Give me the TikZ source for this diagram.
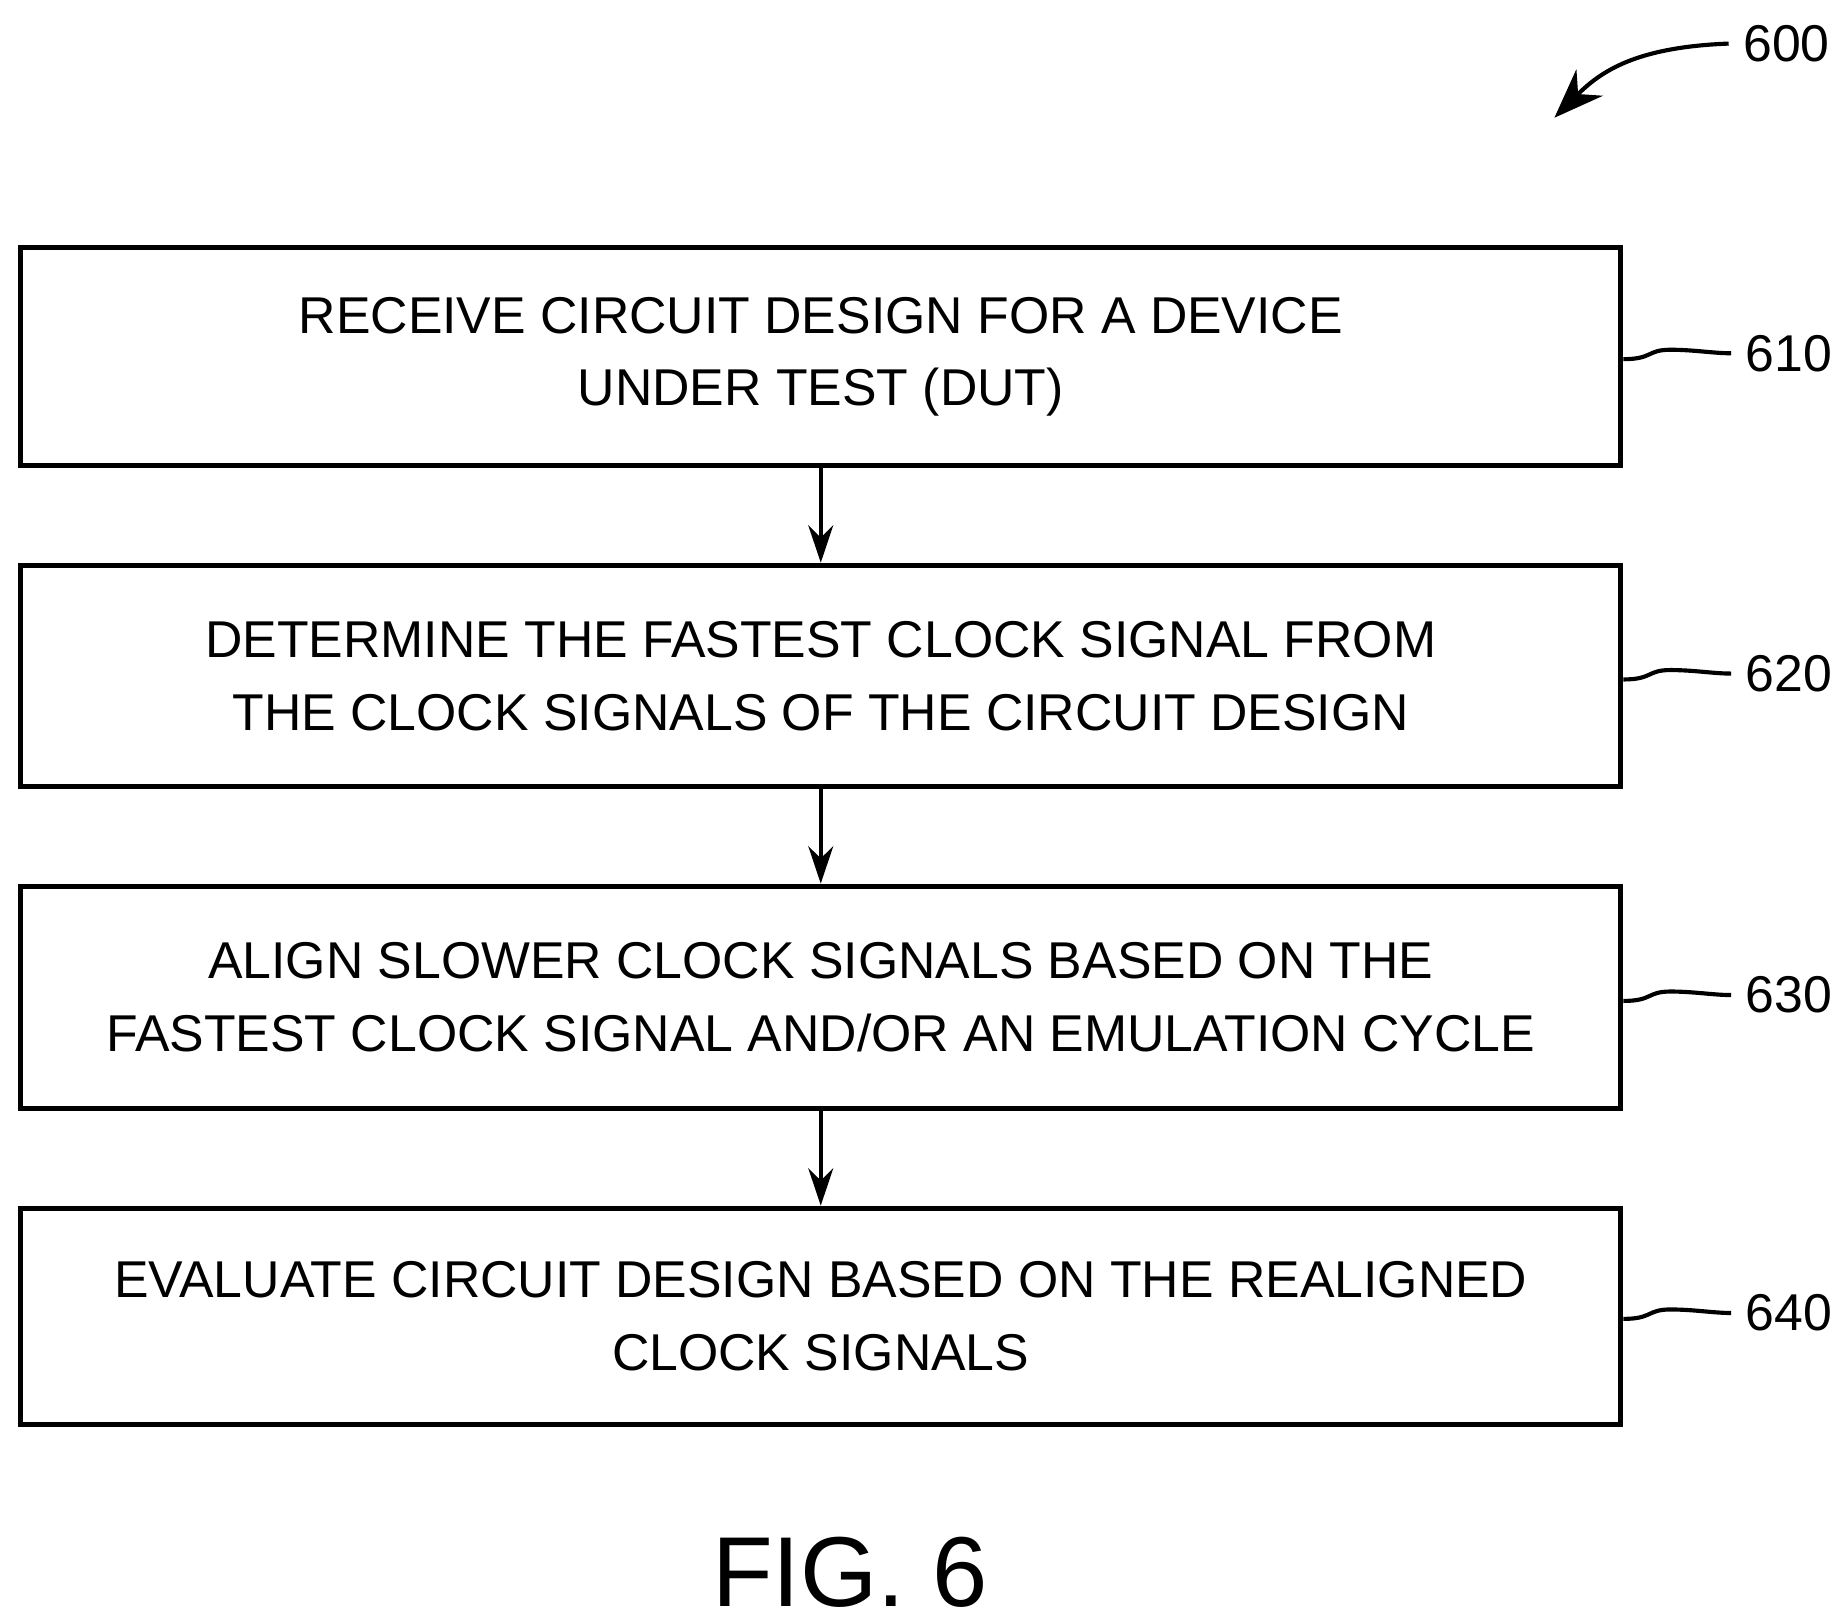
\documentclass[tikz,border=0pt]{standalone}
\usepackage{fontspec}
\setmainfont{Liberation Sans}
\usetikzlibrary{positioning,arrows.meta}
\tikzset{
  stepbox/.style={rectangle, draw, line width=1.2pt, minimum width=13.58cm, align=center,
    font=\fontsize{12.5}{17.6}\selectfont},
  ref/.style={font=\fontsize{12.5}{15}\selectfont, anchor=west},
  flow/.style={-{Stealth[length=9pt,width=6pt]}, line width=1pt},
  squig/.style={line width=1pt}
}
\begin{document}
\begin{tikzpicture}[x=0.01cm, y=-0.01cm]
    \useasboundingbox (0,0) rectangle (1560,1372);
    % steps
    \node[stepbox, minimum height=1.85cm] (s610) at (697,303) {RECEIVE CIRCUIT DESIGN FOR A DEVICE\\UNDER TEST (DUT)};
    \node[stepbox, minimum height=1.88cm] (s620) at (697,574) {DETERMINE THE FASTEST CLOCK SIGNAL FROM\\THE CLOCK SIGNALS OF THE CIRCUIT DESIGN};
    \node[stepbox, minimum height=1.89cm] (s630) at (697,847) {ALIGN SLOWER CLOCK SIGNALS BASED ON THE\\FASTEST CLOCK SIGNAL AND/OR AN EMULATION CYCLE};
    \node[stepbox, minimum height=1.84cm] (s640) at (697,1118) {EVALUATE CIRCUIT DESIGN BASED ON THE REALIGNED\\CLOCK SIGNALS};

    \draw[flow] (s610) -- (s620);
    \draw[flow] (s620) -- (s630);
    \draw[flow] (s630) -- (s640);

    % reference numerals
    \node[ref] (r610) at (1470,300) {610};
    \node[ref] (r620) at (1470,572) {620};
    \node[ref] (r630) at (1470,845) {630};
    \node[ref] (r640) at (1470,1115) {640};
    \foreach \s in {610,620,630,640}
      \draw[squig] (s\s.east |- r\s.west) ++(0,5) .. controls +(25,0) and +(-20,0) .. ++(40,-8)
        .. controls +(20,0) and +(-15,0) .. (r\s.west);

    \node[ref] (r600) at (1468,37) {600};
    \coordinate (tip600) at (1320,100);
    \draw[line width=1pt, -{Stealth[length=12pt,width=9pt]}] (r600.west) .. controls (1390,40) and (1360,60) .. (tip600);

    \node[font=\fontsize{24}{28}\selectfont] (fig) at (722,1335) {FIG. 6};
\end{tikzpicture}
\end{document}
